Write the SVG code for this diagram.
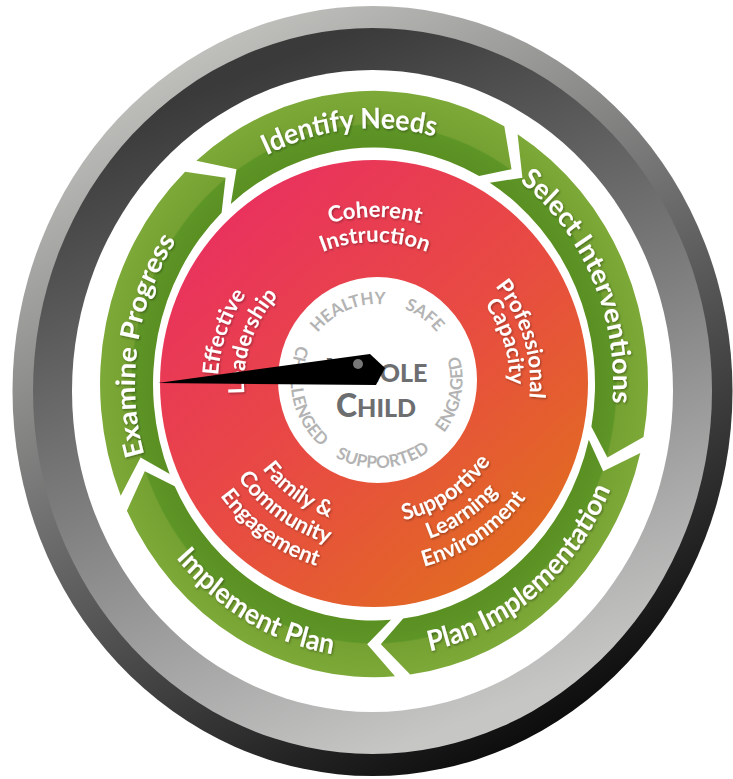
<svg xmlns="http://www.w3.org/2000/svg" xmlns:xlink="http://www.w3.org/1999/xlink" width="733" height="779" viewBox="0 0 733 779">
<style>
.gl{font-family:Lato,"Open Sans","Noto Sans",sans-serif;font-weight:700;font-size:26.5px;fill:#fff;}
.rl{font-family:Lato,"Open Sans","Noto Sans",sans-serif;font-weight:700;font-size:22px;fill:#fff;}
.cw{font-family:"Liberation Sans Narrow",Lato,"Noto Sans",sans-serif;font-weight:700;font-size:17px;fill:#b3b3b3;}
.wc{font-family:Lato,"Open Sans","Noto Sans",sans-serif;font-weight:900;fill:#6d6e70;}
.seg{fill:url(#greenG);}
</style>
<defs>
<linearGradient id="bezOuter" gradientUnits="userSpaceOnUse" x1="187" y1="54" x2="557" y2="728">
<stop offset="0" stop-color="#c0c0bd"/><stop offset="0.5" stop-color="#666"/><stop offset="1" stop-color="#0c0c0c"/>
</linearGradient>
<linearGradient id="bezInner" gradientUnits="userSpaceOnUse" x1="246" y1="73" x2="498" y2="709">
<stop offset="0" stop-color="#3a3a3a"/><stop offset="0.5" stop-color="#7d7d7d"/><stop offset="1" stop-color="#c6c7c5"/>
</linearGradient>
<radialGradient id="greenG" gradientUnits="userSpaceOnUse" cx="0" cy="0" r="274">
<stop offset="0.80" stop-color="#5a8f22"/><stop offset="0.882" stop-color="#5e9527"/><stop offset="0.888" stop-color="#74a131"/><stop offset="1" stop-color="#7da938"/>
</radialGradient>
<linearGradient id="redG" gradientUnits="userSpaceOnUse" x1="200" y1="190" x2="560" y2="590">
<stop offset="0" stop-color="#e92e62"/><stop offset="0.5" stop-color="#e84b42"/><stop offset="1" stop-color="#e0721a"/>
</linearGradient>
<filter id="ts" x="-10%" y="-10%" width="120%" height="130%">
<feDropShadow dx="1" dy="1.2" stdDeviation="0.8" flood-color="#000" flood-opacity="0.35"/>
</filter>
<path id="pIN" d="M -207.0,-119.5 A 239 239 0 0 1 177.6,-159.9"/>
<path id="pSI" d="M 49.7,-233.8 A 239 239 0 0 1 207.0,119.5"/>
<path id="pEP" d="M -169.0,169.0 A 239 239 0 0 1 -108.5,-212.9"/>
<path id="pPI" d="M -61.9,248.4 A 256 256 0 0 0 255.4,-17.9"/>
<path id="pIP" d="M -254.6,26.8 A 256 256 0 0 0 104.1,233.9"/>
<path id="pCo" d="M 230.4,300.5 A 167 167 0 0 1 519.6,300.5"/>
<path id="pIn" d="M 252.0,313.0 A 142 142 0 0 1 498.0,313.0"/>
<path id="pPr" d="M 409.9,233.0 A 155 155 0 0 1 488.4,489.7"/>
<path id="pCa" d="M 404.2,253.0 A 130 130 0 0 1 471.8,472.0"/>
<path id="pEf" d="M 256.5,487.0 A 157 157 0 0 1 345.0,229.9"/>
<path id="pLe" d="M 276.1,469.9 A 131 131 0 0 1 350.0,255.4"/>
<path id="pFa" d="M 234.8,369.3 A 141 141 0 0 0 432.3,512.8"/>
<path id="pCm" d="M 209.9,366.6 A 166 166 0 0 0 442.5,535.6"/>
<path id="pEn" d="M 185.0,364.0 A 191 191 0 0 0 452.7,558.5"/>
<path id="pSu" d="M 314.1,508.9 A 139 139 0 0 0 513.7,374.3"/>
<path id="pLn" d="M 303.1,531.4 A 164 164 0 0 0 538.6,372.6"/>
<path id="pEv" d="M 292.1,553.9 A 189 189 0 0 0 563.5,370.8"/>
<path id="pHe" d="M 302.1,370.7 A 76 76 0 0 1 423.2,319.3"/>
<path id="pSa" d="M 346.6,310.6 A 76 76 0 0 1 453.1,387.9"/>
<path id="pEg" d="M 405.2,460.4 A 85 85 0 0 0 433.3,315.9"/>
<path id="pSp" d="M 304.5,429.2 A 88 88 0 0 0 456.6,418.6"/>
<path id="pCh" d="M 318.2,316.4 A 87 87 0 0 0 352.1,463.2"/>
</defs>

<g id="bezel">
<ellipse cx="372.5" cy="391" rx="360" ry="385" fill="url(#bezOuter)"/>
<ellipse cx="372.5" cy="391" rx="339.5" ry="363" fill="url(#bezInner)"/>
<ellipse cx="372.5" cy="391" rx="300.5" ry="321" fill="#fff"/>
</g>

<g id="cycle" transform="translate(374,384) scale(1,1.07)">
<g id="identify-needs">
<path class="seg" d="M -177.6,-208.7 A 274 274 0 0 1 130.3,-241.0 L 137.5,-200.7 L 105.1,-194.4 A 221 221 0 0 0 -143.2,-168.3 L -137.5,-200.7 Z"/>
<text class="gl" filter="url(#ts)"><textPath href="#pIN" xlink:href="#pIN" startOffset="50%" text-anchor="middle">Identify Needs</textPath></text>
</g>
<g id="select-interventions">
<path class="seg" d="M 143.6,-233.4 A 274 274 0 0 1 269.5,49.5 L 233.4,68.7 L 217.4,39.9 A 221 221 0 0 0 115.8,-188.2 L 148.4,-192.8 Z"/>
<text class="gl" filter="url(#ts)"><textPath href="#pSI" xlink:href="#pSI" startOffset="50%" text-anchor="middle">Select Interventions</textPath></text>
</g>
<g id="plan-implementation">
<path class="seg" d="M 266.3,64.4 A 274 274 0 0 1 36.2,271.6 L 6.8,243.2 L 29.2,219.1 A 221 221 0 0 0 214.8,52.0 L 229.2,81.6 Z"/>
<text class="gl" filter="url(#ts)"><textPath href="#pPI" xlink:href="#pPI" startOffset="50%" text-anchor="middle">Plan Implementation</textPath></text>
</g>
<g id="implement-plan">
<path class="seg" d="M 21.0,273.2 A 274 274 0 0 1 -247.1,118.4 L -229.2,81.6 L -199.3,95.5 A 221 221 0 0 0 17.0,220.4 L -6.8,243.2 Z"/>
<text class="gl" filter="url(#ts)"><textPath href="#pIP" xlink:href="#pIP" startOffset="50%" text-anchor="middle">Implement Plan</textPath></text>
</g>
<g id="examine-progress">
<path class="seg" d="M -253.3,104.4 A 274 274 0 0 1 -188.9,-198.4 L -148.4,-192.8 L -152.4,-160.0 A 221 221 0 0 0 -204.3,84.2 L -233.4,68.7 Z"/>
<text class="gl" filter="url(#ts)"><textPath href="#pEP" xlink:href="#pEP" startOffset="50%" text-anchor="middle">Examine Progress</textPath></text>
</g>
</g>

<g id="connectors"></g>

<g id="domains">
<ellipse cx="374" cy="383.5" rx="214" ry="223.5" fill="url(#redG)"/>
<g id="coherent-instruction" class="rl" filter="url(#ts)">
<text><textPath href="#pCo" xlink:href="#pCo" startOffset="50%" text-anchor="middle">Coherent</textPath></text>
<text><textPath href="#pIn" xlink:href="#pIn" startOffset="50%" text-anchor="middle">Instruction</textPath></text>
</g>
<g id="professional-capacity" class="rl" filter="url(#ts)">
<text><textPath href="#pPr" xlink:href="#pPr" startOffset="50%" text-anchor="middle">Professional</textPath></text>
<text><textPath href="#pCa" xlink:href="#pCa" startOffset="50%" text-anchor="middle">Capacity</textPath></text>
</g>
<g id="effective-leadership" class="rl" filter="url(#ts)">
<text><textPath href="#pEf" xlink:href="#pEf" startOffset="50%" text-anchor="middle">Effective</textPath></text>
<text><textPath href="#pLe" xlink:href="#pLe" startOffset="50%" text-anchor="middle">Leadership</textPath></text>
</g>
<g id="family-community" class="rl" filter="url(#ts)">
<text><textPath href="#pFa" xlink:href="#pFa" startOffset="50%" text-anchor="middle">Family &amp;</textPath></text>
<text><textPath href="#pCm" xlink:href="#pCm" startOffset="50%" text-anchor="middle">Community</textPath></text>
<text><textPath href="#pEn" xlink:href="#pEn" startOffset="50%" text-anchor="middle">Engagement</textPath></text>
</g>
<g id="supportive-environment" class="rl" filter="url(#ts)">
<text><textPath href="#pSu" xlink:href="#pSu" startOffset="50%" text-anchor="middle">Supportive</textPath></text>
<text><textPath href="#pLn" xlink:href="#pLn" startOffset="50%" text-anchor="middle">Learning</textPath></text>
<text><textPath href="#pEv" xlink:href="#pEv" startOffset="50%" text-anchor="middle">Environment</textPath></text>
</g>
</g>

<g id="whole-child">
<ellipse cx="377.5" cy="380" rx="99.5" ry="103" fill="#fff"/>
<g class="cw">
<text><textPath href="#pHe" xlink:href="#pHe" startOffset="50%" text-anchor="middle">HEALTHY</textPath></text>
<text><textPath href="#pSa" xlink:href="#pSa" startOffset="50%" text-anchor="middle">SAFE</textPath></text>
<text><textPath href="#pEg" xlink:href="#pEg" startOffset="50%" text-anchor="middle">ENGAGED</textPath></text>
<text><textPath href="#pSp" xlink:href="#pSp" startOffset="50%" text-anchor="middle">SUPPORTED</textPath></text>
<text><textPath href="#pCh" xlink:href="#pCh" startOffset="50%" text-anchor="middle">CHALLENGED</textPath></text>
</g>
<text class="wc" x="377" y="382" text-anchor="middle"><tspan font-size="32">W</tspan><tspan font-size="25">HOLE</tspan></text>
<text class="wc" x="376" y="417" text-anchor="middle"><tspan font-size="32">C</tspan><tspan font-size="25">HILD</tspan></text>
</g>

<g id="needle">
<polygon points="158,383 370,354 385,368 376,385" fill="#000"/>
<circle cx="358" cy="364" r="5" fill="#777"/>
</g>
</svg>
